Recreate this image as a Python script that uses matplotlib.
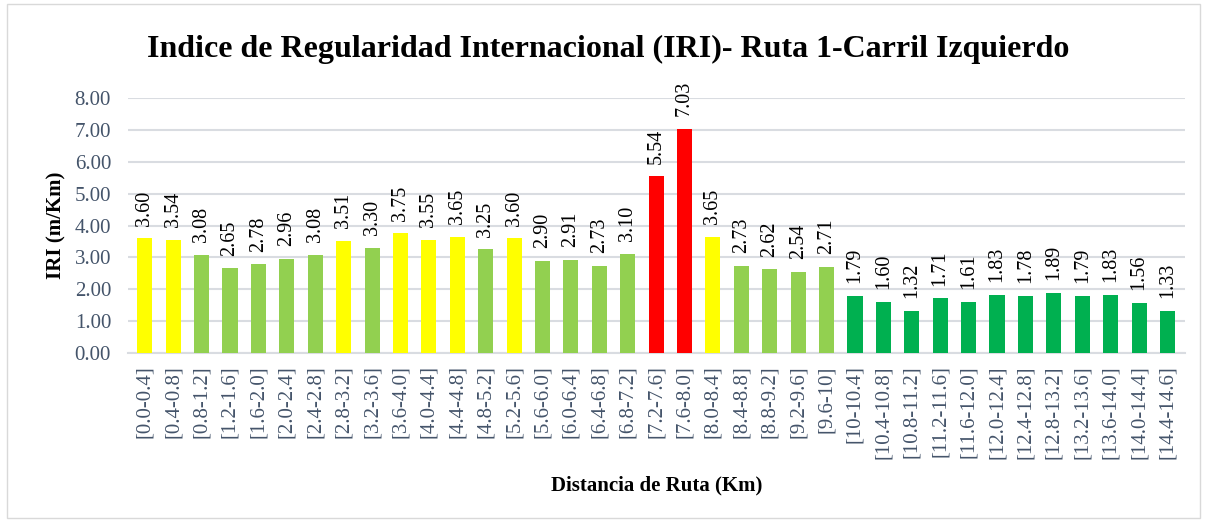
import matplotlib.pyplot as plt
from matplotlib.patches import Rectangle

plt.rcParams['font.family'] = ['Liberation Serif', 'DejaVu Serif']

tramos = ["[0.0-0.4]", "[0.4-0.8]", "[0.8-1.2]", "[1.2-1.6]", "[1.6-2.0]", "[2.0-2.4]",
          "[2.4-2.8]", "[2.8-3.2]", "[3.2-3.6]", "[3.6-4.0]", "[4.0-4.4]", "[4.4-4.8]",
          "[4.8-5.2]", "[5.2-5.6]", "[5.6-6.0]", "[6.0-6.4]", "[6.4-6.8]", "[6.8-7.2]",
          "[7.2-7.6]", "[7.6-8.0]", "[8.0-8.4]", "[8.4-8.8]", "[8.8-9.2]", "[9.2-9.6]",
          "[9.6-10]", "[10-10.4]", "[10.4-10.8]", "[10.8-11.2]", "[11.2-11.6]",
          "[11.6-12.0]", "[12.0-12.4]", "[12.4-12.8]", "[12.8-13.2]", "[13.2-13.6]",
          "[13.6-14.0]", "[14.0-14.4]", "[14.4-14.6]"]

iri = [3.60, 3.54, 3.08, 2.65, 2.78, 2.96, 3.08, 3.51, 3.30, 3.75, 3.55, 3.65, 3.25,
       3.60, 2.90, 2.91, 2.73, 3.10, 5.54, 7.03, 3.65, 2.73, 2.62, 2.54, 2.71, 1.79,
       1.60, 1.32, 1.71, 1.61, 1.83, 1.78, 1.89, 1.79, 1.83, 1.56, 1.33]

# Y amarillo, G verde claro, R rojo, D verde oscuro
clase = list("YYGGGGGYGYYYGYGGGGRRYGGGG") + ["D"] * 12
paleta = {"Y": "#FFFF00", "G": "#92D050", "R": "#FF0000", "D": "#00B050"}
colores = [paleta[c] for c in clase]

fig = plt.figure(figsize=(12.05, 5.22), dpi=100)
ax = fig.add_axes([0.106, 0.324, 0.877, 0.488])

x = range(len(iri))
ax.bar(x, iri, width=0.53, color=colores, zorder=3)

for xi, v in zip(x, iri):
    ax.text(xi, v + 0.4, f"{v:.2f}", rotation=90, ha="center", va="bottom",
            fontsize=14.5, color="black")

ax.set_ylim(0, 8)
ax.set_xlim(-0.6, len(iri) - 0.4)
ax.set_yticks(range(0, 9))
ax.set_yticklabels([f"{v:.2f}" for v in range(0, 9)], fontsize=15, color="#44546A")
ax.set_xticks(list(x))
ax.set_xticklabels(tramos, rotation=90, fontsize=15, color="#44546A")
ax.tick_params(axis="y", length=0, pad=12)
ax.tick_params(axis="x", length=0, pad=9)
ax.grid(axis="y", color="#D9DCE1", linewidth=1.5, zorder=0)
for s in ["top", "right", "left"]:
    ax.spines[s].set_visible(False)
ax.spines["bottom"].set_color("#D9DCE1")
ax.spines["bottom"].set_linewidth(1.5)

ax.set_ylabel("IRI (m/Km)", fontsize=15, fontweight="bold", labelpad=6)
fig.text(0.545, 0.07, "Distancia de Ruta (Km)", fontsize=15, fontweight="bold",
         ha="center", va="center")
fig.text(0.505, 0.905, "Indice de Regularidad Internacional (IRI)- Ruta 1-Carril Izquierdo",
         fontsize=23, fontweight="bold", ha="center", va="center")

fig.patches.append(Rectangle((0.006, 0.008), 0.99, 0.985, transform=fig.transFigure,
                             fill=False, edgecolor="#D9D9D9", linewidth=1))

fig.savefig("out.png", dpi=100)
